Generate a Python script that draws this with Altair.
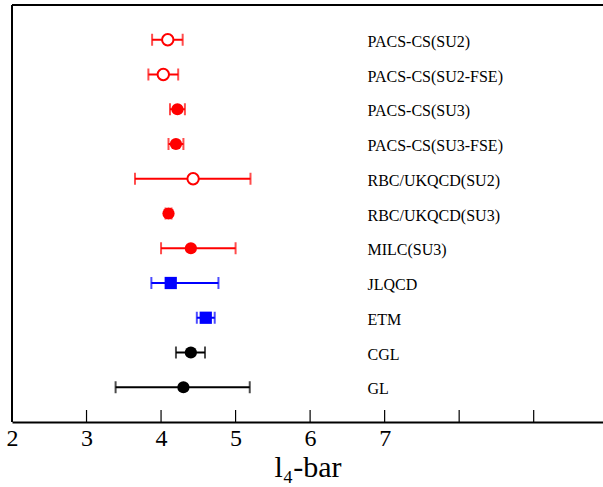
import altair as alt
import pandas as pd

labels = ["PACS-CS(SU2)", "PACS-CS(SU2-FSE)", "PACS-CS(SU3)", "PACS-CS(SU3-FSE)",
          "RBC/UKQCD(SU2)", "RBC/UKQCD(SU3)", "MILC(SU3)", "JLQCD", "ETM", "CGL", "GL"]
centers = [4.09, 4.03, 4.22, 4.20, 4.43, 4.10, 4.40, 4.13, 4.60, 4.40, 4.30]
lows = [3.88, 3.83, 4.12, 4.10, 3.65, 4.06, 4.00, 3.87, 4.48, 4.20, 3.39]
highs = [4.29, 4.23, 4.32, 4.30, 5.20, 4.14, 5.00, 4.77, 4.72, 4.59, 5.19]
colors = ["#ff0000"] * 7 + ["#0000ff"] * 2 + ["#000000"] * 2
markers = ["open", "open", "filled", "filled", "open", "filled", "filled",
           "square", "square", "filled", "filled"]
tick_values = [2, 3, 4, 5, 6, 7, 8, 9]

W, H = 591, 417

df = pd.DataFrame({
    "label": labels, "center": centers, "low": lows, "high": highs,
    "color": colors, "marker": markers, "row": list(range(1, len(labels) + 1)),
})
caps = pd.concat([
    df[["row", "color"]].assign(x=df["low"]),
    df[["row", "color"]].assign(x=df["high"]),
])
ticks_df = pd.DataFrame({"t": tick_values})

xscale = alt.Scale(domain=[2, 9.93], nice=False, zero=False)
yscale = alt.Scale(domain=[0, 12], reverse=True, nice=False, zero=False)
col = alt.Color("color:N", scale=None)

xaxis = alt.Axis(values=tick_values, labelExpr="datum.value <= 7 ? datum.label : ''",
                 format="d", ticks=False, tickSize=0, grid=False, labelFont="Liberation Serif",
                 labelFontSize=24, labelColor="black", labelPadding=4,
                 labelFlush=False, labelOverlap=False, labelBound=False,
                 domainColor="black", domainWidth=2,
                 title="l₄-bar", titleFont="Liberation Serif", titleFontSize=30,
                 titleFontWeight="normal", titleColor="black", titlePadding=2)
yaxis = None

base = alt.Chart(df)

bars = base.mark_rule(strokeWidth=2).encode(
    x=alt.X("low:Q", scale=xscale, axis=xaxis),
    x2="high:Q",
    y=alt.Y("row:Q", scale=yscale, axis=yaxis),
    color=col,
)
capmarks = alt.Chart(caps).mark_tick(orient="vertical", size=12, thickness=2).encode(
    x=alt.X("x:Q", scale=xscale),
    y=alt.Y("row:Q", scale=yscale),
    color=col,
)
open_pts = base.transform_filter("datum.marker == 'open'").mark_point(
    shape="circle", size=130, fill="white", filled=False, strokeWidth=2, opacity=1
).encode(
    x=alt.X("center:Q", scale=xscale), y=alt.Y("row:Q", scale=yscale),
    stroke=alt.Stroke("color:N", scale=None),
)
filled_pts = base.transform_filter("datum.marker == 'filled'").mark_point(
    shape="circle", size=150, filled=True, opacity=1
).encode(
    x=alt.X("center:Q", scale=xscale), y=alt.Y("row:Q", scale=yscale), color=col,
)
square_pts = base.transform_filter("datum.marker == 'square'").mark_point(
    shape="square", size=150, filled=True, opacity=1
).encode(
    x=alt.X("center:Q", scale=xscale), y=alt.Y("row:Q", scale=yscale), color=col,
)
texts = base.mark_text(align="left", baseline="middle", dy=2,
                       font="Liberation Serif", fontSize=16, color="black").encode(
    x=alt.datum(6.77, scale=xscale), y=alt.Y("row:Q", scale=yscale), text="label:N",
)
inticks = alt.Chart(ticks_df).mark_rule(color="black", strokeWidth=1.2).encode(
    x=alt.X("t:Q", scale=xscale), y=alt.value(H - 12), y2=alt.value(H),
)
top_border = alt.Chart(ticks_df).mark_rule(color="black", strokeWidth=2).encode(
    x=alt.value(0), x2=alt.value(W), y=alt.value(0),
)
left_border = alt.Chart(ticks_df).mark_rule(color="black", strokeWidth=2).encode(
    x=alt.value(0), y=alt.value(0), y2=alt.value(H),
)

chart = alt.layer(top_border, left_border, inticks, bars, capmarks, open_pts,
                  filled_pts, square_pts, texts).properties(
    width=W, height=H,
    autosize=alt.AutoSizeParams(type="none"),
    padding={"left": 12, "top": 5, "right": 0, "bottom": 65},
    background="white",
).configure_view(stroke=None)

chart.save("out.html", embed_options={"renderer": "svg", "actions": False})
